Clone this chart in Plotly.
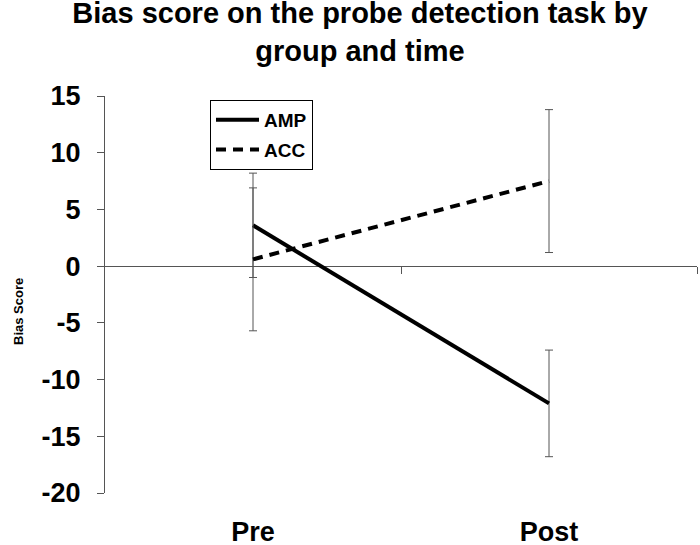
import plotly.graph_objects as go

# group means and error bars
times = ['Pre', 'Post']
amp_mean = [3.6, -12.1]
amp_err = [4.6, 4.7]
acc_mean = [0.6, 7.5]
acc_err = [6.3, 6.3]
y_ticks = [15, 10, 5, 0, -5, -10, -15, -20]

font = 'Arial, Liberation Sans, sans-serif'
xpos = [0.5, 1.5]  # category centres on a numeric axis

fig = go.Figure()

fig.add_trace(go.Scatter(x=xpos, y=amp_mean, name='AMP', mode='lines', legendgroup='amp',
                         line=dict(color='black', width=4),
                         error_y=dict(type='data', array=amp_err, color='#555555',
                                      thickness=1, width=4)))
fig.add_trace(go.Scatter(x=xpos, y=acc_mean, name='ACC', mode='lines', legendgroup='acc',
                         line=dict(color='black', width=4, dash='10px,7px'),
                         error_y=dict(type='data', array=acc_err, color='#555555',
                                      thickness=1, width=4)))

# invisible trace so the tick-only x axis at y=0 gets drawn
fig.add_trace(go.Scatter(x=[0, 2], y=[0, 0], xaxis='x2', mode='lines',
                         line=dict(width=0), showlegend=False, hoverinfo='skip'))

fig.update_layout(
    width=700, height=545,
    paper_bgcolor='white', plot_bgcolor='white',
    margin=dict(l=105, r=3, t=96, b=52),
    title=dict(text='Bias score on the probe detection task by<br>group and time',
               x=360 / 700, xanchor='center', xref='container', y=0.957, yanchor='top',
               font=dict(family=font, size=29, color='black', weight='bold')),
    font=dict(family=font, color='black'),
    xaxis=dict(range=[0, 2], tickvals=xpos, ticktext=times, ticks='',
               showline=False, showgrid=False, zeroline=False,
               ticklabelstandoff=20, automargin=False,
               tickfont=dict(family=font, size=27, weight='bold')),
    xaxis2=dict(range=[0, 2], overlaying='x', anchor='free',
                position=20 / 35, tickvals=[1, 2], ticks='outside', ticklen=7,
                tickcolor='#555555', showticklabels=False, showline=False,
                showgrid=False, zeroline=False),
    yaxis=dict(range=[-20, 15], tickvals=y_ticks, ticktext=[str(v) for v in y_ticks],
               ticks='outside', ticklen=7, automargin=False,
               tickcolor='#555555', showline=True, linecolor='#555555', linewidth=1,
               showgrid=False, zeroline=True, zerolinecolor='#555555', zerolinewidth=1,
               ticklabelstandoff=11,
               tickfont=dict(family=font, size=27, weight='bold')),
    legend=dict(x=(210 - 105) / 592, y=(493 - 100) / 397, xanchor='left', yanchor='top',
                bordercolor='black', borderwidth=1, bgcolor='white',
                font=dict(family=font, size=19, weight='bold'),
                itemwidth=43, tracegroupgap=2),
    annotations=[dict(text='Bias Score', textangle=-90, xref='paper', yref='paper',
                      x=-(105 - 18) / 592, y=(493 - 312) / 397, showarrow=False,
                      xanchor='center', yanchor='middle',
                      font=dict(family=font, size=13, weight='bold'))],
    showlegend=True,
)

# drop the browser's default body margin so the figure sits at the window corner
fig.write_html('out.html', config={'displayModeBar': False},
               post_script="document.body.style.margin='0';")
